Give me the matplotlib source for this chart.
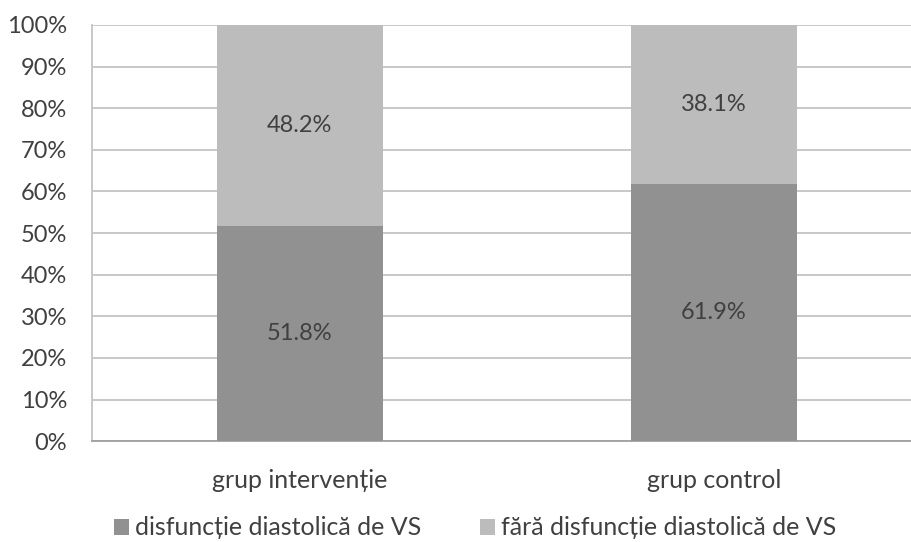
import numpy as np
import matplotlib.pyplot as plt

plt.rcParams['font.family'] = ['Lato', 'DejaVu Sans']

# --- Daten ---
grupe = ["grup intervenție", "grup control"]
cu_disfunctie = [51.8, 61.9]
fara_disfunctie = [48.2, 38.1]
serii = ["disfuncție diastolică de VS", "fără disfuncție diastolică de VS"]

c_inchis = "#919191"
c_deschis = "#bcbcbd"
c_text = "#404040"
c_grila = "#c4c4c4"

fig = plt.figure(figsize=(9.12, 5.42), dpi=100)
ax = fig.add_axes([0.101, 0.186, 0.899, 0.768])

x = np.arange(len(grupe))
latime = 0.40
b1 = ax.bar(x, cu_disfunctie, latime, color=c_inchis, label=serii[0], zorder=3)
b2 = ax.bar(x, fara_disfunctie, latime, bottom=cu_disfunctie, color=c_deschis,
            label=serii[1], zorder=3)

for i in range(len(grupe)):
    ax.text(x[i], cu_disfunctie[i] / 2, f"{cu_disfunctie[i]:.1f}%", ha="center", va="center",
            fontsize=17, color=c_text, zorder=4)
    ax.text(x[i], cu_disfunctie[i] + fara_disfunctie[i] / 2, f"{fara_disfunctie[i]:.1f}%",
            ha="center", va="center", fontsize=17, color=c_text, zorder=4)

ax.set_xlim(-0.502, 1.479)
ax.set_ylim(0, 100)
ax.set_yticks(np.arange(0, 101, 10))
ax.set_yticklabels([f"{v}%" for v in range(0, 101, 10)])
ax.set_xticks(x)
ax.set_xticklabels(grupe)
ax.yaxis.grid(True, color=c_grila, linewidth=1.3, zorder=0)
ax.tick_params(axis="both", length=0, labelcolor=c_text)
ax.tick_params(axis="y", labelsize=17, pad=18)
ax.tick_params(axis="x", labelsize=18, pad=20)

for s in ["top", "right"]:
    ax.spines[s].set_visible(False)
ax.spines["left"].set_color(c_grila)
ax.spines["left"].set_linewidth(1.3)
ax.spines["bottom"].set_color("#a0a0a0")
ax.spines["bottom"].set_linewidth(1.3)

fig.legend(handles=[b1, b2], loc="center", bbox_to_anchor=(0.521, 0.026), ncol=2,
           frameon=False, fontsize=18, labelcolor=c_text, handlelength=0.6,
           handleheight=0.6, handletextpad=0.25, columnspacing=2.35)

plt.savefig("out.png", dpi=100)
